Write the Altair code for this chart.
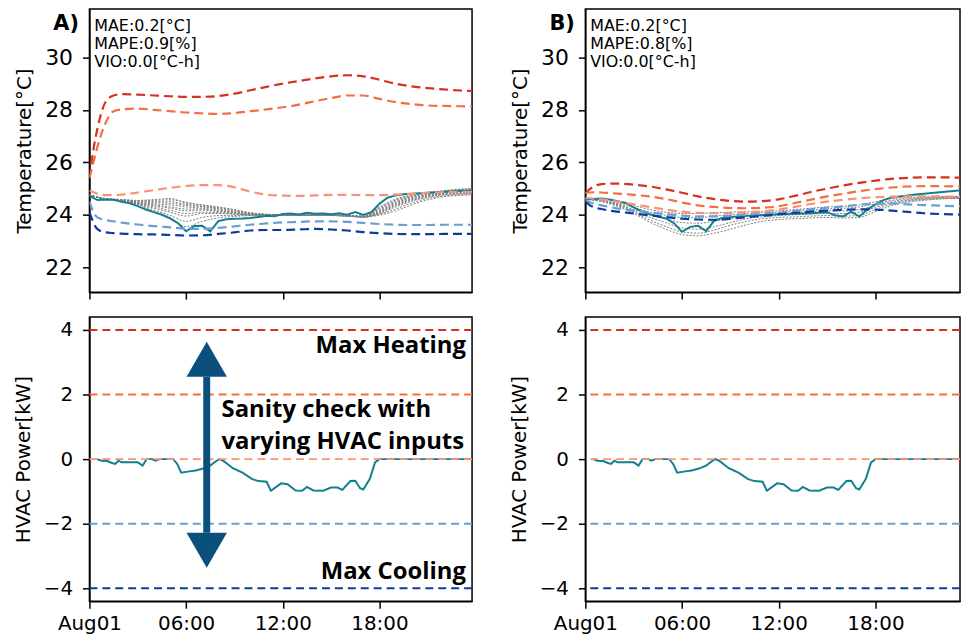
import altair as alt
import pandas as pd

# ---------------- data ----------------
XMAX_A = 23.75
XMAX_B = 23.25
TICK_HOURS = [0, 6, 12, 18]

BOUND_NAMES = ["max_heat", "heat", "zero", "cool", "max_cool"]
BOUND_COLORS = ["#d7301f", "#f46d43", "#fc9272", "#6a9fd3", "#0b3d9a"]

T_BOUND = [0, 0.25, 0.5, 1, 1.5, 2, 3, 4, 5, 6, 7, 8, 9, 10, 11, 12, 13, 14,
           15, 16, 17, 18, 19, 20, 21, 22, 23, 23.75]

A_RED = [25.4, 26.5, 27.3, 28.3, 28.55, 28.6, 28.58, 28.55, 28.52, 28.5, 28.5, 28.53,
         28.62, 28.75, 28.88, 29.0, 29.1, 29.2, 29.28, 29.32, 29.28, 29.15, 29.0, 28.9,
         28.83, 28.78, 28.74, 28.72]
A_ORANGE = [25.4, 26.0, 26.6, 27.5, 27.95, 28.02, 28.05, 28.0, 27.95, 27.9, 27.87, 27.85,
            27.88, 27.95, 28.02, 28.1, 28.2, 28.33, 28.45, 28.55, 28.55, 28.42, 28.3, 28.22,
            28.17, 28.15, 28.14, 28.13]
A_SALMON = [24.92, 24.86, 24.8, 24.75, 24.75, 24.77, 24.85, 24.94, 25.03, 25.1, 25.13, 25.13,
            25.05, 24.88, 24.77, 24.73, 24.72, 24.74, 24.76, 24.76, 24.75, 24.75, 24.77, 24.8,
            24.84, 24.87, 24.88, 24.88]
A_LBLUE = [24.5, 24.1, 23.9, 23.8, 23.75, 23.7, 23.63, 23.57, 23.52, 23.47, 23.46, 23.5,
           23.56, 23.62, 23.67, 23.71, 23.73, 23.75, 23.75, 23.73, 23.69, 23.65, 23.62, 23.61,
           23.61, 23.62, 23.62, 23.62]
A_DBLUE = [24.1, 23.7, 23.45, 23.33, 23.3, 23.28, 23.26, 23.25, 23.23, 23.21, 23.22, 23.27,
           23.33, 23.4, 23.42, 23.42, 23.44, 23.46, 23.44, 23.4, 23.34, 23.3, 23.27, 23.26,
           23.26, 23.27, 23.27, 23.27]

B_RED = [24.82, 24.97, 25.07, 25.17, 25.19, 25.19, 25.15, 25.08, 24.97, 24.84, 24.7, 24.6,
         24.53, 24.5, 24.52, 24.59, 24.72, 24.87, 25.0, 25.12, 25.22, 25.3, 25.37, 25.41,
         25.43, 25.43, 25.42, 25.42]
B_ORANGE = [24.82, 24.85, 24.86, 24.85, 24.83, 24.81, 24.76, 24.7, 24.6, 24.47, 24.36, 24.3,
            24.26, 24.25, 24.27, 24.33, 24.45, 24.58, 24.7, 24.8, 24.9, 24.98, 25.04, 25.08,
            25.09, 25.09, 25.08, 25.07]
B_SALMON = [24.65, 24.63, 24.62, 24.59, 24.55, 24.5, 24.4, 24.3, 24.2, 24.12, 24.07, 24.06,
            24.07, 24.09, 24.13, 24.2, 24.3, 24.41, 24.5, 24.57, 24.63, 24.67, 24.69, 24.7,
            24.7, 24.7, 24.69, 24.69]
B_LBLUE = [24.55, 24.48, 24.43, 24.36, 24.3, 24.24, 24.16, 24.09, 24.03, 23.97, 23.94, 23.94,
           23.97, 24.0, 24.04, 24.08, 24.15, 24.21, 24.27, 24.32, 24.38, 24.42, 24.43, 24.4,
           24.37, 24.35, 24.33, 24.32]
B_DBLUE = [24.5, 24.38, 24.3, 24.22, 24.16, 24.12, 24.05, 23.98, 23.91, 23.85, 23.82, 23.81,
           23.85, 23.91, 23.96, 24.02, 24.07, 24.12, 24.16, 24.19, 24.21, 24.2, 24.16, 24.11,
           24.06, 24.03, 24.01, 24.0]

T_HALF = [i * 0.5 for i in range(48)] + [23.75]
A_MEAS = [24.72, 24.56, 24.58, 24.57, 24.5, 24.44, 24.33, 24.2, 24.1, 24.0, 23.86, 23.68,
          23.37, 23.57, 23.58, 23.37, 23.76, 23.83, 23.85, 23.86, 23.88, 23.92, 23.96, 23.94,
          24.03, 24.05, 24.01, 24.08, 24.04, 24.05, 24.02, 24.06, 24.0, 24.1, 23.99, 24.1,
          24.42, 24.65, 24.74, 24.78, 24.8, 24.82, 24.84, 24.86, 24.88, 24.9, 24.92, 24.93, 24.94]
B_MEAS = [24.58, 24.6, 24.62, 24.58, 24.52, 24.45, 24.28, 24.13, 24.02, 23.93, 23.86, 23.68,
          23.35, 23.54, 23.58, 23.38, 23.78, 23.88, 23.92, 23.94, 23.96, 23.97, 23.99, 24.0,
          24.02, 24.03, 24.04, 24.05, 24.06, 24.08, 24.1, 23.98, 23.94, 24.12, 23.93, 24.2,
          24.4, 24.56, 24.66, 24.7, 24.74, 24.77, 24.8, 24.83, 24.86, 24.89, 24.92, 24.95, 24.96]

G_T = list(range(24)) + [23.75]
A_GRAY = [
    [24.75, 24.62, 24.58, 24.55, 24.58, 24.62, 24.45, 24.38, 24.30, 24.20, 24.08, 24.02, 24.00,
     24.00, 24.01, 24.00, 23.98, 23.95, 24.30, 24.60, 24.75, 24.85, 24.92, 24.98, 25.00],
    [24.75, 24.62, 24.58, 24.54, 24.55, 24.57, 24.48, 24.36, 24.28, 24.18, 24.07, 24.02, 24.00,
     24.00, 24.00, 24.00, 23.98, 23.95, 24.26, 24.56, 24.73, 24.83, 24.90, 24.96, 24.98],
    [24.75, 24.61, 24.57, 24.52, 24.50, 24.50, 24.40, 24.32, 24.25, 24.15, 24.05, 24.01, 24.00,
     24.00, 24.00, 24.00, 23.97, 23.94, 24.22, 24.52, 24.70, 24.80, 24.87, 24.93, 24.95],
    [24.75, 24.61, 24.56, 24.50, 24.46, 24.44, 24.36, 24.30, 24.22, 24.12, 24.04, 24.01, 24.00,
     24.00, 24.00, 23.99, 23.97, 23.94, 24.18, 24.48, 24.68, 24.78, 24.85, 24.90, 24.92],
    [24.75, 24.60, 24.56, 24.48, 24.42, 24.38, 24.30, 24.25, 24.18, 24.10, 24.03, 24.00, 24.00,
     23.99, 24.00, 23.99, 23.96, 23.93, 24.15, 24.45, 24.65, 24.76, 24.83, 24.88, 24.90],
    [24.75, 24.60, 24.55, 24.46, 24.38, 24.30, 24.22, 24.22, 24.15, 24.08, 24.02, 24.00, 23.99,
     23.99, 24.00, 23.99, 23.96, 23.92, 24.12, 24.41, 24.61, 24.74, 24.81, 24.86, 24.88],
    [24.75, 24.60, 24.55, 24.45, 24.35, 24.25, 24.15, 24.18, 24.12, 24.06, 24.01, 24.00, 23.99,
     23.99, 24.00, 23.99, 23.96, 23.92, 24.10, 24.38, 24.58, 24.72, 24.80, 24.84, 24.86],
    [24.75, 24.60, 24.55, 24.43, 24.30, 24.17, 24.05, 24.10, 24.08, 24.04, 24.00, 23.99, 23.99,
     23.98, 23.99, 23.98, 23.95, 23.92, 24.07, 24.34, 24.55, 24.69, 24.78, 24.82, 24.84],
    [24.75, 24.60, 24.55, 24.42, 24.25, 24.10, 23.95, 24.05, 24.05, 24.02, 24.00, 23.99, 23.99,
     23.98, 23.99, 23.98, 23.95, 23.92, 24.05, 24.30, 24.52, 24.67, 24.76, 24.80, 24.82],
    [24.75, 24.60, 24.55, 24.41, 24.18, 23.98, 23.75, 23.90, 23.97, 23.98, 23.98, 23.99, 23.98,
     23.98, 23.99, 23.98, 23.95, 23.91, 24.02, 24.22, 24.45, 24.62, 24.72, 24.77, 24.79],
    [24.75, 24.60, 24.55, 24.40, 24.12, 23.90, 23.55, 23.75, 23.88, 23.94, 23.97, 23.98, 23.98,
     23.98, 23.98, 23.97, 23.95, 23.91, 23.99, 24.15, 24.38, 24.57, 24.69, 24.74, 24.76],
]
B_GRAY = [
    [24.6, 24.55, 24.45, 24.35, 24.2, 24.1, 24.05, 24.05, 24.08, 24.1, 24.12, 24.13, 24.15,
     24.2, 24.25, 24.3, 24.32, 24.38, 24.5, 24.62, 24.66, 24.68, 24.7, 24.7, 24.7],
    [24.6, 24.55, 24.42, 24.28, 24.1, 23.98, 23.9, 23.9, 23.95, 24.0, 24.05, 24.08, 24.1,
     24.15, 24.18, 24.22, 24.25, 24.3, 24.42, 24.55, 24.62, 24.65, 24.68, 24.68, 24.68],
    [24.6, 24.54, 24.4, 24.2, 24.0, 23.85, 23.7, 23.68, 23.75, 23.85, 23.95, 24.0, 24.03,
     24.08, 24.12, 24.15, 24.15, 24.2, 24.35, 24.5, 24.58, 24.63, 24.66, 24.67, 24.67],
    [24.6, 24.53, 24.38, 24.15, 23.9, 23.7, 23.5, 23.45, 23.55, 23.7, 23.85, 23.92, 23.97,
     24.0, 24.03, 24.05, 24.05, 24.1, 24.28, 24.45, 24.55, 24.6, 24.64, 24.65, 24.65],
    [24.6, 24.52, 24.35, 24.1, 23.8, 23.55, 23.35, 23.3, 23.42, 23.6, 23.75, 23.85, 23.9,
     23.92, 23.95, 23.97, 23.95, 23.98, 24.2, 24.4, 24.52, 24.58, 24.62, 24.64, 24.64],
    [24.6, 24.5, 24.32, 24.05, 23.72, 23.45, 23.25, 23.2, 23.3, 23.45, 23.62, 23.75, 23.82,
     23.85, 23.88, 23.9, 23.88, 23.9, 24.12, 24.35, 24.48, 24.55, 24.6, 24.62, 24.62],
]

P_T = [0.47, 0.75, 1.1, 1.4, 1.6, 1.8, 2.0, 2.5, 3.0, 3.3, 3.55, 3.9, 4.1, 4.35, 5.2,
       5.45, 5.7, 6.2, 6.6, 7.0, 7.5, 7.8, 8.07, 8.3, 8.9, 9.5, 10.1, 10.5, 11.0, 11.26,
       11.9, 12.3, 12.8, 13.2, 13.5, 13.9, 14.5, 15.0, 15.4, 15.7, 16.2, 16.5, 16.8, 17.0,
       17.4, 17.73, 18.0, 23.75]
P_KW = [0.0, -0.05, -0.06, -0.12, -0.15, -0.05, -0.1, -0.1, -0.1, -0.2, 0.0, 0.0, -0.05, 0.0, 0.0,
        -0.15, -0.42, -0.38, -0.35, -0.3, -0.2, -0.08, 0.0, -0.05, -0.28, -0.42, -0.62, -0.68, -0.7, -0.98,
        -0.75, -0.78, -0.97, -0.98, -0.86, -0.97, -0.98, -0.88, -0.88, -0.95, -0.68, -0.67, -0.9, -0.94,
        -0.62, -0.1, 0.0, 0.0]

P_LEVELS = [4, 2, 0, -2, -4]

METRIC_LABELS_A = ["MAE:0.2[°C]", "MAPE:0.9[%]", "VIO:0.0[°C-h]"]
METRIC_LABELS_B = ["MAE:0.2[°C]", "MAPE:0.8[%]", "VIO:0.0[°C-h]"]
METRIC_Y = [31.21, 30.53, 29.81]
METRIC_X = 0.3
PANEL_LABEL_POS = (-0.65, 31.28)

NOTE_TEXT = ["Max Heating", "Max Cooling"]
NOTE_POS = [(23.37, 3.51), (23.37, -3.51)]
SANITY_TEXT = ["Sanity check with", "varying HVAC inputs"]
SANITY_POS = [(8.2, 1.51), (8.2, 0.52)]
ARROW_T = 7.28
ARROW_TOP = 3.09
ARROW_BOT = -2.82
SHAFT = (2.55, -2.28)

TEAL = "#11808f"
GRAY = "#7d7d7d"
ARROW_COLOR = "#0b4f7c"

TEMP_DOMAIN = [21.05, 31.85]
POWER_DOMAIN = [-4.4, 4.4]

W_A, W_B = 385, 377
H_TOP, H_BOT = 285, 286

LABEL_EXPR = ("datum.value == 0 ? 'Aug01' : "
              "(datum.value < 10 ? '0' : '') + datum.value + ':00'")


def x_enc(xmax, bottom):
    if bottom:
        ax = alt.Axis(values=TICK_HOURS, labelExpr=LABEL_EXPR, title=None,
                      labelFontSize=20, labelPadding=5, labelFlush=False)
    else:
        ax = alt.Axis(values=TICK_HOURS, labels=False, title=None)
    return alt.X("t:Q", scale=alt.Scale(domain=[0, xmax], nice=False, zero=False), axis=ax)


def y_temp():
    return alt.Y("v:Q", scale=alt.Scale(domain=TEMP_DOMAIN, nice=False, zero=False),
                 axis=alt.Axis(values=[22, 24, 26, 28, 30], title="Temperature[°C]",
                               labelFontSize=22, titleFontSize=20))


def y_power():
    return alt.Y("v:Q", scale=alt.Scale(domain=POWER_DOMAIN, nice=False, zero=False),
                 axis=alt.Axis(values=[-4, -2, 0, 2, 4], title="HVAC Power[kW]",
                               labelFontSize=20, titleFontSize=20))


def temp_panel(bounds, meas, grays, metrics, label, xmax, width):
    brows = [{"t": t, "v": v, "s": n, "o": i}
             for i, (n, vals) in enumerate(zip(BOUND_NAMES, bounds))
             for t, v in zip(T_BOUND, vals)]
    grows = [{"t": t, "v": v, "g": k} for k, vals in enumerate(grays) for t, v in zip(G_T, vals)]
    mrows = [{"t": t, "v": v} for t, v in zip(T_HALF, meas)]
    trows = [{"t": METRIC_X, "v": y, "label": s} for s, y in zip(metrics, METRIC_Y)]
    prow = [{"t": PANEL_LABEL_POS[0], "v": PANEL_LABEL_POS[1], "label": label}]

    x = x_enc(xmax, False)
    gray = alt.Chart(pd.DataFrame(grows)).mark_line(
        color=GRAY, strokeWidth=1.0, strokeDash=[2, 1.5], interpolate="monotone", clip=True
    ).encode(x=x, y=y_temp(), detail="g:N")
    teal = alt.Chart(pd.DataFrame(mrows)).mark_line(
        color=TEAL, strokeWidth=2, clip=True
    ).encode(x=x, y=y_temp())
    bnd = alt.Chart(pd.DataFrame(brows)).mark_line(
        strokeWidth=2.2, strokeDash=[9, 5], interpolate="monotone", clip=True
    ).encode(x=x, y=y_temp(),
             color=alt.Color("s:N", scale=alt.Scale(domain=BOUND_NAMES, range=BOUND_COLORS),
                             legend=None),
             order="o:Q")
    txt = alt.Chart(pd.DataFrame(trows)).mark_text(
        align="left", baseline="middle", fontSize=16, font="DejaVu Sans", color="black"
    ).encode(x=x, y=y_temp(), text="label:N")
    plab = alt.Chart(pd.DataFrame(prow)).mark_text(
        align="right", baseline="middle", fontSize=21, fontWeight="bold",
        font="DejaVu Sans", color="black"
    ).encode(x=x, y=y_temp(), text="label:N")
    return alt.layer(gray, teal, bnd, txt, plab).properties(width=width, height=H_TOP)


def power_panel(xmax, width, annotate):
    x = x_enc(xmax, True)
    lrows = [{"v": v, "s": n} for v, n in zip(P_LEVELS, BOUND_NAMES)]
    prows = [{"t": t, "v": v} for t, v in zip(P_T, P_KW)]
    teal = alt.Chart(pd.DataFrame(prows)).mark_line(
        color=TEAL, strokeWidth=2, clip=True
    ).encode(x=x, y=y_power())
    rules = alt.Chart(pd.DataFrame(lrows)).mark_rule(
        strokeWidth=2, strokeDash=[8, 5]
    ).encode(y=y_power(),
             color=alt.Color("s:N", scale=alt.Scale(domain=BOUND_NAMES, range=BOUND_COLORS),
                             legend=None))
    layers = [teal, rules]
    if annotate:
        shaft = alt.Chart(pd.DataFrame([{"t": ARROW_T, "v": SHAFT[0], "v2": SHAFT[1]}])).mark_rule(
            color=ARROW_COLOR, strokeWidth=7
        ).encode(x=x, y=y_power(), y2="v2:Q")
        head_up = alt.Chart(pd.DataFrame([{"t": ARROW_T, "v": ARROW_TOP}])).mark_point(
            shape="triangle-up", filled=True, size=1650, color=ARROW_COLOR, opacity=1, strokeWidth=0
        ).encode(x=x, y=y_power())
        head_dn = alt.Chart(pd.DataFrame([{"t": ARROW_T, "v": ARROW_BOT}])).mark_point(
            shape="triangle-down", filled=True, size=1650, color=ARROW_COLOR, opacity=1, strokeWidth=0
        ).encode(x=x, y=y_power())
        notes = alt.Chart(pd.DataFrame(
            [{"t": p[0], "v": p[1], "label": s} for s, p in zip(NOTE_TEXT, NOTE_POS)]
        )).mark_text(align="right", baseline="middle", fontSize=24, fontWeight="bold",
                     font="Open Sans", color="black").encode(x=x, y=y_power(), text="label:N")
        sanity = alt.Chart(pd.DataFrame(
            [{"t": p[0], "v": p[1], "label": s} for s, p in zip(SANITY_TEXT, SANITY_POS)]
        )).mark_text(align="left", baseline="middle", fontSize=24, fontWeight="bold",
                     font="Open Sans", color="black").encode(x=x, y=y_power(), text="label:N")
        layers += [shaft, head_up, head_dn, notes, sanity]
    return alt.layer(*layers).properties(width=width, height=H_BOT)


colA = alt.vconcat(
    temp_panel([A_RED, A_ORANGE, A_SALMON, A_LBLUE, A_DBLUE], A_MEAS, A_GRAY,
               METRIC_LABELS_A, "A)", XMAX_A, W_A),
    power_panel(XMAX_A, W_A, True),
    spacing=15,
)
colB = alt.vconcat(
    temp_panel([B_RED, B_ORANGE, B_SALMON, B_LBLUE, B_DBLUE], B_MEAS, B_GRAY,
               METRIC_LABELS_B, "B)", XMAX_B, W_B),
    power_panel(XMAX_B, W_B, False),
    spacing=15,
)

chart = alt.hconcat(colA, colB, spacing=34).properties(
    padding={"left": 12, "top": 6, "right": 0, "bottom": 0},
    background="white",
).configure_axis(
    domainColor="black", domainWidth=1.5, tickColor="black", tickWidth=1.5, tickSize=7,
    labelColor="black", titleColor="black", labelFont="DejaVu Sans", titleFont="DejaVu Sans",
    titleFontWeight="normal", grid=False,
).configure_axisY(
    labelPadding=10, titlePadding=10,
).configure_view(
    stroke="black", strokeWidth=1.5,
)

chart.save("out.html", embed_options={"renderer": "svg", "actions": False})
